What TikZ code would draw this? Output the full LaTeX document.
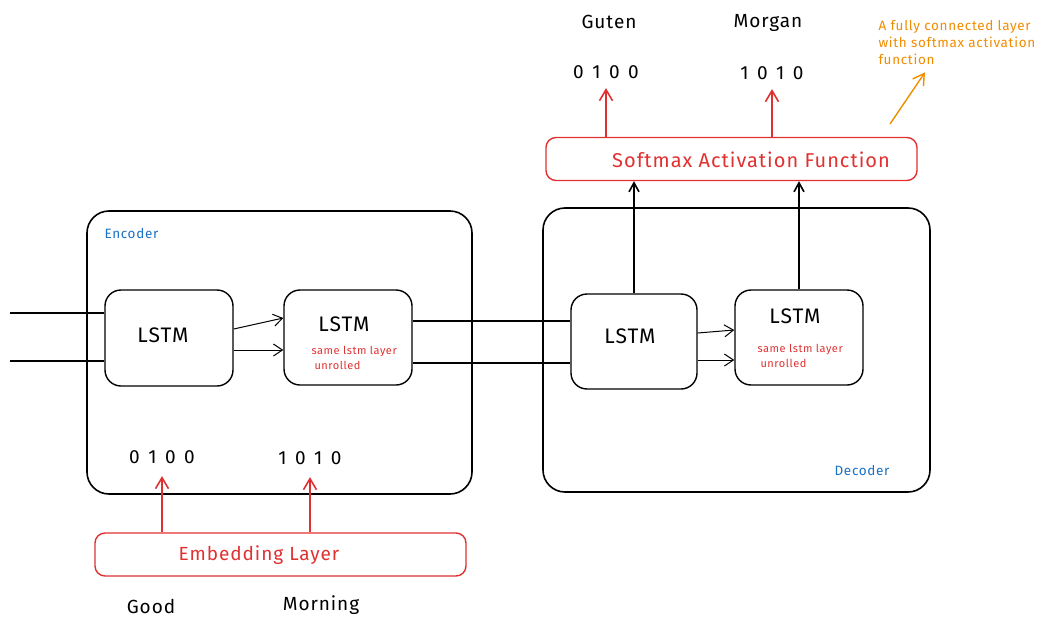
\documentclass[tikz,border=0pt]{standalone}
\usepackage{fontspec}
\setmainfont{Fira Sans}[LetterSpace=5]
\usetikzlibrary{arrows.meta}
\definecolor{xred}{HTML}{E03131}
\definecolor{xblue}{HTML}{1971C2}
\definecolor{xorange}{HTML}{F08C00}
\newcommand{\bitsfont}{\fontsize{19}{22}\selectfont\spaceskip=8.5pt plus 0pt\relax}

\begin{document}
\begin{tikzpicture}[x=1pt, y=-1pt,
    box/.style={draw, line width=1.6pt, rounded corners=22pt, inner sep=0pt},
    cell/.style={draw, line width=1.4pt, rounded corners=16pt, inner sep=0pt,
                 minimum width=128pt, minimum height=96pt},
    layer/.style={draw=xred, line width=1.4pt, rounded corners=10pt, inner sep=0pt,
                  minimum height=43pt},
    layertext/.style={text=xred, font=\fontsize{19}{22}\selectfont},
    cellname/.style={font=\fontsize{21}{24}\selectfont},
    word/.style={font=\fontsize{19}{22}\selectfont},
    bits/.style={font=\bitsfont},
    tag/.style={font=\fontsize{13.5}{16}\selectfont, text=xblue},
    note/.style={font=\fontsize{11}{15}\selectfont, text=xred, align=left, anchor=north west},
    arr/.style={-{Straight Barb[length=9pt, width=12pt]}, line width=1pt},
    uparr/.style={-{Straight Barb[length=9pt, width=10pt]}, line width=1.6pt},
    redarr/.style={draw=xred, line width=1.6pt, -{Straight Barb[length=11pt, width=13pt]}},
    wire/.style={line width=1.6pt}
  ]
    % Canvas
    \useasboundingbox (0,0) rectangle (1063,629);

    % Encoder
    \node[box, minimum width=385pt, minimum height=283pt] (encoder) at (279.5,352.5) {};
    \node[tag, anchor=west] (enctag) at (101,234) {Encoder};
    \node[cell] (enc1) at (169,338) {};
    \node[cell, minimum height=95pt] (enc2) at (348,337.5) {};
    \node[cellname] (enc1name) at (163,335) {LSTM};
    \node[cellname] (enc2name) at (344,324) {LSTM};
    \node[note] (enc2note) at (308,343) {same lstm layer\\\hspace{3pt}unrolled};

    % Decoder
    \node[box, minimum width=387pt, minimum height=284pt] (decoder) at (736.5,350) {};
    \node[tag] (dectag) at (862,471) {Decoder};
    \node[cell, minimum width=126pt, minimum height=95pt] (dec1) at (634,341.5) {};
    \node[cell, minimum height=95pt] (dec2) at (799,337.5) {};
    \node[cellname] (dec1name) at (630,336) {LSTM};
    \node[cellname] (dec2name) at (795,316) {LSTM};
    \node[note] (dec2note) at (754,341) {same lstm layer\\\hspace{3pt}unrolled};

    % Inputs from the left
    \coordinate (in1) at (10,313);
    \coordinate (in2) at (10,361);
    \draw[wire] (in1) -- (in1 -| enc1.west);
    \draw[wire] (in2) -- (in2 -| enc1.west);

    % Cell to cell
    \draw[arr] ([yshift=9pt]enc1.east) -- ([yshift=19.5pt]enc2.west);
    \draw[arr] ([yshift=-12pt]enc1.east) -- ([yshift=-12.5pt]enc2.west);
    \draw[wire] ([yshift=16.5pt]enc2.east) -- ([yshift=20.5pt]dec1.west);
    \draw[wire] ([yshift=-25.5pt]enc2.east) -- ([yshift=-21.5pt]dec1.west);
    \draw[arr] ([yshift=8.5pt]dec1.east) -- ([yshift=7.5pt]dec2.west);
    \draw[arr] ([yshift=-18.5pt]dec1.east) -- ([yshift=-22.5pt]dec2.west);

    % Softmax layer
    \node[layer, minimum width=371pt] (softmax) at (731.5,159) {};
    \node[layertext, font=\fontsize{20}{22}\selectfont] (softmaxtext) at (751,160) {Softmax Activation Function};
    \draw[uparr] (dec1.north) -- (dec1.north |- softmax.south);
    \draw[uparr] (dec2.north) -- (dec2.north |- softmax.south);
    \node[bits] (gutenbits) at (606,72) {0 1 0 0};
    \node[bits] (morganbits) at (772,73) {1 0 1 0};
    \node[word] (guten) at (609,22) {Guten};
    \node[word] (morgan) at (768,23) {Morgan};
    \draw[redarr, shorten >=6pt] (softmax.north -| gutenbits.south) -- (gutenbits.south);
    \draw[redarr, shorten >=6pt] (softmax.north -| morganbits.south) -- (morganbits.south);

    % Note on the softmax layer
    \node[font=\fontsize{13.5}{17}\selectfont, text=xorange, align=left, anchor=north west]
        (fcnote) at (875,17) {A fully connected layer\\with softmax activation\\function};
    \coordinate (fctail) at (890,124);
    \draw[draw=xorange, line width=1.4pt, -{Straight Barb[length=11pt, width=13pt]}]
        (fctail) -- ([xshift=50pt, yshift=-4pt]fcnote.south west);

    % Embedding layer
    \node[layer, minimum width=371pt] (embed) at (280.5,554.5) {};
    \node[layertext] (embedtext) at (259,555) {Embedding Layer};
    \node[bits] (goodbits) at (162,457) {0 1 0 0};
    \node[bits] (morningbits) at (310,458) {1 0 1 0};
    \draw[redarr, shorten >=9pt] (embed.north -| goodbits.south) -- (goodbits.south);
    \draw[redarr, shorten >=9pt] (embed.north -| morningbits.south) -- (morningbits.south);
    \node[word] (good) at (151,606) {Good};
    \node[word] (morning) at (321,605) {Morning};
\end{tikzpicture}
\end{document}
